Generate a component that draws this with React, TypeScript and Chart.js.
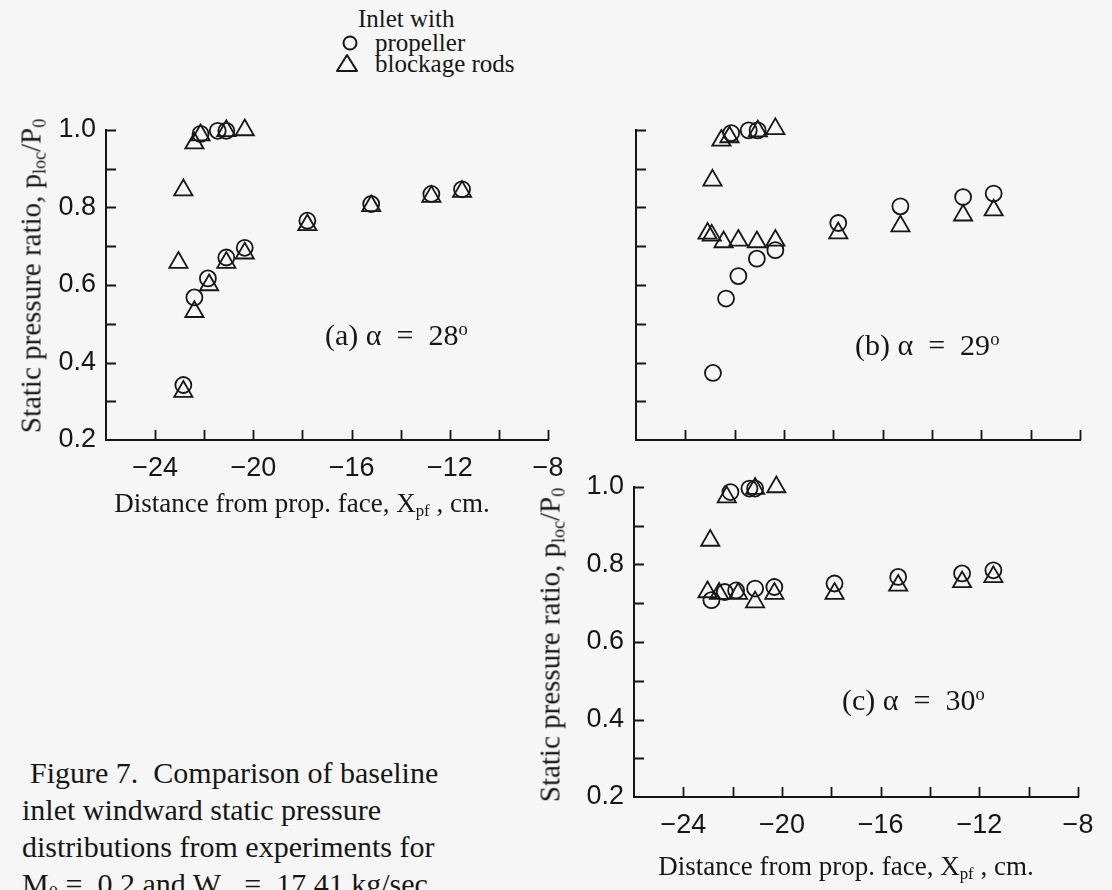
import React, { useEffect, useRef } from 'react';
import { Chart, registerables } from 'chart.js';

Chart.register(...registerables);

// ---- axis ticks ----
const X_TICK_VALUES = [-26, -24, -22, -20, -18, -16, -14, -12, -10, -8];
const X_TICK_LABELS = ['', '−24', '', '−20', '', '−16', '', '−12', '', '−8'];
const Y_TICK_VALUES = [0.2, 0.3, 0.4, 0.5, 0.6, 0.7, 0.8, 0.9, 1.0];
const Y_TICK_LABELS = ['0.2', '', '0.4', '', '0.6', '', '0.8', '', '1.0'];

// ---- panel (a) alpha = 28 deg ----
const A_PROP_X = [-22.85, -22.4, -21.85, -21.1, -20.35, -22.15, -21.45, -21.1, -17.8, -15.2, -12.75, -11.5];
const A_PROP_Y = [0.342, 0.568, 0.617, 0.671, 0.696, 0.99, 0.998, 0.998, 0.766, 0.809, 0.835, 0.847];
const A_ROD_X = [-23.05, -22.85, -22.85, -22.4, -22.4, -21.8, -21.1, -20.35, -22.15, -21.1, -20.35, -17.8, -15.2, -12.75, -11.5];
const A_ROD_Y = [0.658, 0.845, 0.325, 0.966, 0.531, 0.6, 0.658, 0.682, 0.987, 0.998, 1.0, 0.755, 0.804, 0.828, 0.841];

// ---- panel (b) alpha = 29 deg ----
const B_PROP_X = [-22.88, -22.35, -21.85, -21.1, -20.35, -22.14, -21.43, -21.07, -17.8, -15.28, -12.74, -11.5];
const B_PROP_Y = [0.373, 0.565, 0.623, 0.668, 0.69, 0.992, 0.999, 0.999, 0.76, 0.803, 0.827, 0.836];
const B_ROD_X = [-22.9, -23.1, -22.93, -22.45, -21.85, -21.1, -20.35, -22.54, -22.21, -21.06, -20.35, -17.8, -15.28, -12.74, -11.5];
const B_ROD_Y = [0.87, 0.733, 0.728, 0.711, 0.715, 0.711, 0.715, 0.973, 0.982, 0.997, 1.003, 0.734, 0.752, 0.78, 0.793];

// ---- panel (c) alpha = 30 deg ----
const C_PROP_X = [-22.86, -22.32, -21.86, -21.09, -20.31, -22.09, -21.32, -21.09, -17.87, -15.29, -12.7, -11.43];
const C_PROP_Y = [0.708, 0.729, 0.733, 0.738, 0.742, 0.987, 0.996, 0.996, 0.751, 0.768, 0.777, 0.785];
const C_ROD_X = [-22.91, -23.02, -22.55, -21.78, -21.09, -20.31, -22.24, -21.09, -20.23, -17.87, -15.29, -12.7, -11.43];
const C_ROD_Y = [0.862, 0.729, 0.725, 0.725, 0.703, 0.725, 0.974, 0.996, 1.0, 0.725, 0.746, 0.755, 0.768];

const INK = '#161616';
const SERIF = '"Liberation Serif", "Times New Roman", serif';
const SANS = '"Liberation Sans", Arial, sans-serif';

const inwardTicks = {
  id: 'inwardTicks',
  afterDraw(chart: any) {
    const { ctx, chartArea, scales } = chart;
    const xs = scales.x;
    const ys = scales.y;
    ctx.save();
    ctx.strokeStyle = INK;
    ctx.lineWidth = 1.8;
    ctx.beginPath();
    xs.ticks.forEach((t: any) => {
      if (t.value === xs.min) return;
      const px = Math.round(xs.getPixelForValue(t.value)) + 0.5;
      ctx.moveTo(px, chartArea.bottom);
      ctx.lineTo(px, chartArea.bottom - 10);
    });
    ys.ticks.forEach((t: any) => {
      if (Math.abs(t.value - ys.min) < 1e-9) return;
      const py = Math.round(ys.getPixelForValue(t.value)) + 0.5;
      ctx.moveTo(chartArea.left, py);
      ctx.lineTo(chartArea.left + 10, py);
    });
    ctx.stroke();
    ctx.restore();
  },
};

type PanelProps = {
  left: number;
  top: number;
  width: number;
  height: number;
  yAxisW: number;
  xAxisH: number;
  padTop: number;
  padRight: number;
  showLabels: boolean;
  propX: number[];
  propY: number[];
  rodX: number[];
  rodY: number[];
};

function Panel(p: PanelProps) {
  const ref = useRef<HTMLCanvasElement>(null);
  useEffect(() => {
    const canvas = ref.current;
    if (!canvas) return;
    const chart = new Chart(canvas, {
      type: 'scatter',
      data: {
        datasets: [
          {
            label: 'propeller',
            data: p.propX.map((x, i) => ({ x, y: p.propY[i] })),
            pointStyle: 'circle',
            pointRadius: 8,
            pointBorderWidth: 1.8,
            borderColor: INK,
            backgroundColor: 'rgba(0,0,0,0)',
            showLine: false,
            clip: false,
          } as any,
          {
            label: 'blockage rods',
            data: p.rodX.map((x, i) => ({ x, y: p.rodY[i] })),
            pointStyle: 'triangle',
            pointRadius: 10.5,
            pointBorderWidth: 1.8,
            borderColor: INK,
            backgroundColor: 'rgba(0,0,0,0)',
            showLine: false,
            clip: false,
          } as any,
        ],
      },
      options: {
        responsive: false,
        animation: false,
        devicePixelRatio: 1,
        events: [],
        layout: { padding: { top: p.padTop, right: p.padRight, left: 0, bottom: 0 } },
        plugins: { legend: { display: false }, tooltip: { enabled: false } },
        scales: {
          x: {
            type: 'linear',
            min: -26,
            max: -8,
            afterBuildTicks: (s: any) => {
              s.ticks = X_TICK_VALUES.map((v) => ({ value: v }));
            },
            afterFit: (s: any) => {
              s.height = p.xAxisH;
            },
            grid: { display: false, drawTicks: false },
            border: { display: true, color: INK, width: 2 },
            ticks: {
              autoSkip: false,
              maxRotation: 0,
              minRotation: 0,
              padding: 12,
              color: INK,
              font: { family: SANS, size: 27 },
              callback: (_v: any, i: number) => (p.showLabels ? X_TICK_LABELS[i] : ''),
            },
          },
          y: {
            type: 'linear',
            min: 0.2,
            max: 1.0,
            afterBuildTicks: (s: any) => {
              s.ticks = Y_TICK_VALUES.map((v) => ({ value: v }));
            },
            afterFit: (s: any) => {
              s.width = p.yAxisW;
            },
            grid: { display: false, drawTicks: false },
            border: { display: true, color: INK, width: 2 },
            ticks: {
              autoSkip: false,
              padding: 10,
              color: INK,
              font: { family: SANS, size: 27 },
              callback: (_v: any, i: number) => (p.showLabels ? Y_TICK_LABELS[i] : ''),
            },
          },
        },
      } as any,
      plugins: [inwardTicks],
    });
    return () => chart.destroy();
  }, []);
  return (
    <canvas
      ref={ref}
      width={p.width}
      height={p.height}
      style={{ position: 'absolute', left: p.left, top: p.top, width: p.width, height: p.height }}
    />
  );
}

function Txt(props: { x: number; cy: number; size: number; children: any; rotate?: boolean; center?: boolean }) {
  const { x, cy, size, children, rotate, center } = props;
  const tf = rotate
    ? 'translate(-50%, -50%) rotate(-90deg)'
    : center
    ? 'translate(-50%, -50%)'
    : 'translate(0, -50%)';
  return (
    <div
      style={{
        position: 'absolute',
        left: x,
        top: cy,
        transform: tf,
        whiteSpace: 'nowrap',
        fontFamily: SERIF,
        fontSize: size,
        lineHeight: `${size}px`,
        color: INK,
      }}
    >
      {children}
    </div>
  );
}

const subStyle: React.CSSProperties = { fontSize: '0.62em', verticalAlign: '-0.28em', lineHeight: 0 };
const supStyle: React.CSSProperties = { fontSize: '0.62em', verticalAlign: '0.55em', lineHeight: 0 };

function YTitle() {
  return (
    <span>
      Static pressure ratio, p<span style={subStyle}>loc</span>/P<span style={subStyle}>0</span>
    </span>
  );
}
function XTitle() {
  return (
    <span>
      Distance from prop. face, X<span style={subStyle}>pf</span> , cm.
    </span>
  );
}

export default function App() {
  return (
    <div
      style={{
        position: 'absolute',
        left: 0,
        top: 0,
        width: 1112,
        height: 890,
        overflow: 'hidden',
        background: '#f6f6f6',
      }}
    >
      {/* legend */}
      <Txt x={358} cy={18} size={25}>Inlet with</Txt>
      <svg style={{ position: 'absolute', left: 340, top: 33 }} width={20} height={20}>
        <circle cx={10} cy={10} r={6.5} fill="none" stroke={INK} strokeWidth={2} />
      </svg>
      <Txt x={375} cy={42} size={25}>propeller</Txt>
      <svg style={{ position: 'absolute', left: 334, top: 52 }} width={26} height={22}>
        <polygon points="13,3 23,19 3,19" fill="none" stroke={INK} strokeWidth={2} strokeLinejoin="round" />
      </svg>
      <Txt x={375} cy={63} size={25}>blockage rods</Txt>

      <Panel
        left={0}
        top={90}
        width={600}
        height={400}
        yAxisW={106}
        xAxisH={50}
        padTop={40}
        padRight={52}
        showLabels={true}
        propX={A_PROP_X}
        propY={A_PROP_Y}
        rodX={A_ROD_X}
        rodY={A_ROD_Y}
      />
      <Panel
        left={580}
        top={90}
        width={532}
        height={400}
        yAxisW={56}
        xAxisH={50}
        padTop={40}
        padRight={32}
        showLabels={false}
        propX={B_PROP_X}
        propY={B_PROP_Y}
        rodX={B_ROD_X}
        rodY={B_ROD_Y}
      />
      <Panel
        left={520}
        top={447}
        width={592}
        height={400}
        yAxisW={114}
        xAxisH={50}
        padTop={40}
        padRight={34}
        showLabels={true}
        propX={C_PROP_X}
        propY={C_PROP_Y}
        rodX={C_ROD_X}
        rodY={C_ROD_Y}
      />

      {/* axis titles */}
      <Txt x={31} cy={276} size={29} rotate>
        <YTitle />
      </Txt>
      <Txt x={302} cy={503} size={27} center>
        <XTitle />
      </Txt>
      <Txt x={550} cy={645} size={29} rotate>
        <YTitle />
      </Txt>
      <Txt x={846} cy={866} size={27} center>
        <XTitle />
      </Txt>

      {/* panel annotations */}
      <Txt x={325} cy={335} size={30}>
        (a) α &nbsp;=&nbsp; 28<span style={supStyle}>o</span>
      </Txt>
      <Txt x={855} cy={345} size={30}>
        (b) α &nbsp;=&nbsp; 29<span style={supStyle}>o</span>
      </Txt>
      <Txt x={842} cy={700} size={30}>
        (c) α &nbsp;=&nbsp; 30<span style={supStyle}>o</span>
      </Txt>

      {/* caption */}
      <Txt x={30} cy={773} size={30}>Figure 7.&nbsp; Comparison of baseline</Txt>
      <Txt x={22} cy={810} size={30}>inlet windward static pressure</Txt>
      <Txt x={22} cy={847} size={30}>distributions from experiments for</Txt>
      <Txt x={22} cy={884} size={30}>
        M<span style={subStyle}>0</span>&nbsp;= &nbsp;0.2 and W<span style={subStyle}>c</span> &nbsp;= &nbsp;17.41 kg/sec.
      </Txt>
    </div>
  );
}
